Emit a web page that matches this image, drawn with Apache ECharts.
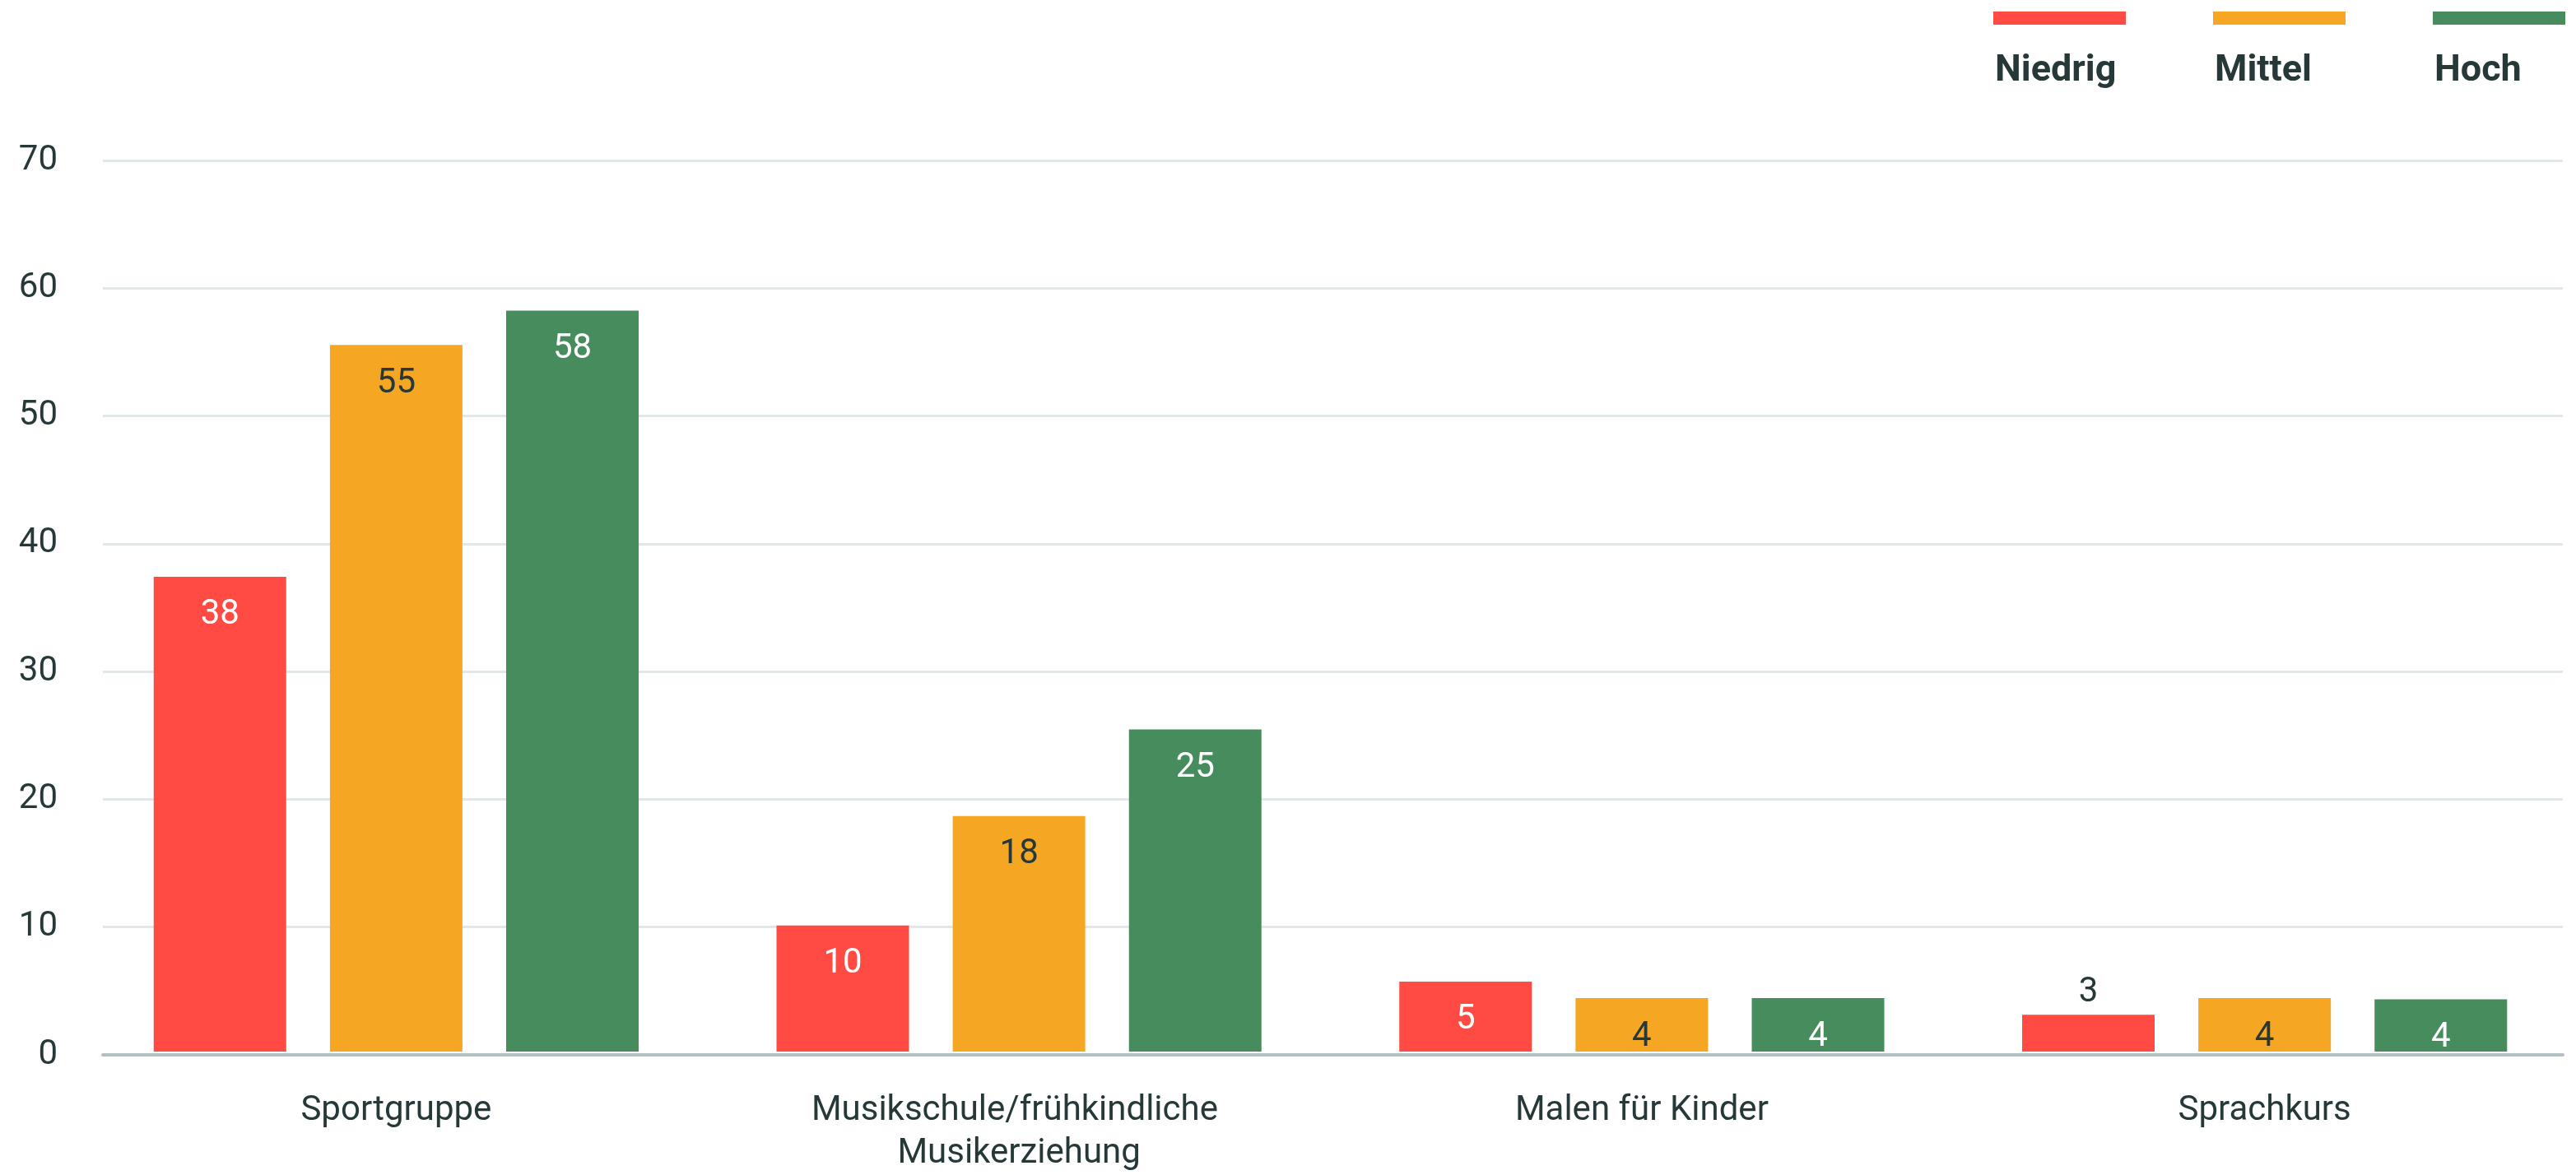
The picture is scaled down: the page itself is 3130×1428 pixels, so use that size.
<!DOCTYPE html>
<html>
<head>
<meta charset="utf-8">
<script src="https://cdn.jsdelivr.net/npm/echarts@6/dist/echarts.min.js"></script>
<style>
html,body{margin:0;padding:0;background:#fff;}
#chart{width:3130px;height:1428px;}
</style>
</head>
<body>
<div id="chart"></div>
<script>
const categories = ['Sportgruppe', 'Musikschule/frühkindliche Musikerziehung', 'Malen für Kinder', 'Sprachkurs'];
const seriesNames = ['Niedrig', 'Mittel', 'Hoch'];
const niedrig = [37.3, 9.9, 5.5, 2.9];
const mittel = [55.5, 18.5, 4.2, 4.2];
const hoch = [58.2, 25.3, 4.2, 4.1];
const niedrigLabels = ['38', '10', '5', '3'];
const mittelLabels = ['55', '18', '4', '4'];
const hochLabels = ['58', '25', '4', '4'];
const yTicks = [0, 10, 20, 30, 40, 50, 60, 70];

const colors = ['#FF4B44', '#F5A623', '#468C5D'];
const labelColors = ['#ffffff', '#263838', '#ffffff'];
const DARK = '#263838';
const FONT = 'Roboto';

const values = [niedrig, mittel, hoch];
const labels = [niedrigLabels, mittelLabels, hochLabels];

const chart = echarts.init(document.getElementById('chart'), null, {renderer: 'canvas'});

const series = seriesNames.map((name, si) => ({
  name: name,
  type: 'bar',
  xAxisIndex: 1,
  yAxisIndex: 1,
  barWidth: 161,
  barGap: '33%',
  itemStyle: {color: colors[si]},
  data: values[si].map((v, i) => {
    const outside = v < 3.5;
    return {
      value: v,
      label: {
        show: true,
        position: outside ? 'top' : 'insideTop',
        distance: outside ? 6 : 26,
        color: outside ? DARK : labelColors[si],
        formatter: labels[si][i],
        fontFamily: FONT,
        fontSize: 42
      }
    };
  })
}));

const legendGraphics = [];
seriesNames.forEach((name, i) => {
  const x = 2422 + i * 267;
  legendGraphics.push({
    type: 'rect',
    left: x, top: 14,
    shape: {width: 161, height: 16},
    style: {fill: colors[i]}
  });
  legendGraphics.push({
    type: 'text',
    left: x + 2, top: 64,
    style: {text: name, fill: DARK, font: 'bold 45px Roboto'}
  });
});

chart.setOption({
  animation: false,
  backgroundColor: '#ffffff',
  grid: [
    {left: 125, right: 16, top: 195, bottom: 146},
    {left: 103, width: 3040, top: 195, bottom: 146}
  ],
  xAxis: [
    {
      gridIndex: 0, type: 'value', min: 0, max: 1,
      axisLine: {show: true, lineStyle: {color: '#B4C0BF', width: 4}},
      axisTick: {show: false}, axisLabel: {show: false}, splitLine: {show: false}
    },
    {
      gridIndex: 1, type: 'category', data: categories,
      axisLine: {show: false}, axisTick: {show: false},
      axisLabel: {
        color: DARK, fontFamily: FONT, fontSize: 42, margin: 46,
        width: 700, overflow: 'break', lineHeight: 52, interval: 0
      }
    }
  ],
  yAxis: [
    {
      gridIndex: 0, type: 'value', min: yTicks[0], max: yTicks[yTicks.length - 1], interval: 10,
      axisLine: {show: false}, axisTick: {show: false},
      axisLabel: {color: DARK, fontFamily: FONT, fontSize: 42, margin: 55},
      splitLine: {lineStyle: {color: '#E2E7E7', width: 3}}
    },
    {
      gridIndex: 1, type: 'value', min: 0, max: 70, interval: 10, show: false,
      splitLine: {show: false}
    }
  ],
  graphic: legendGraphics,
  series: series
});
</script>
</body>
</html>
